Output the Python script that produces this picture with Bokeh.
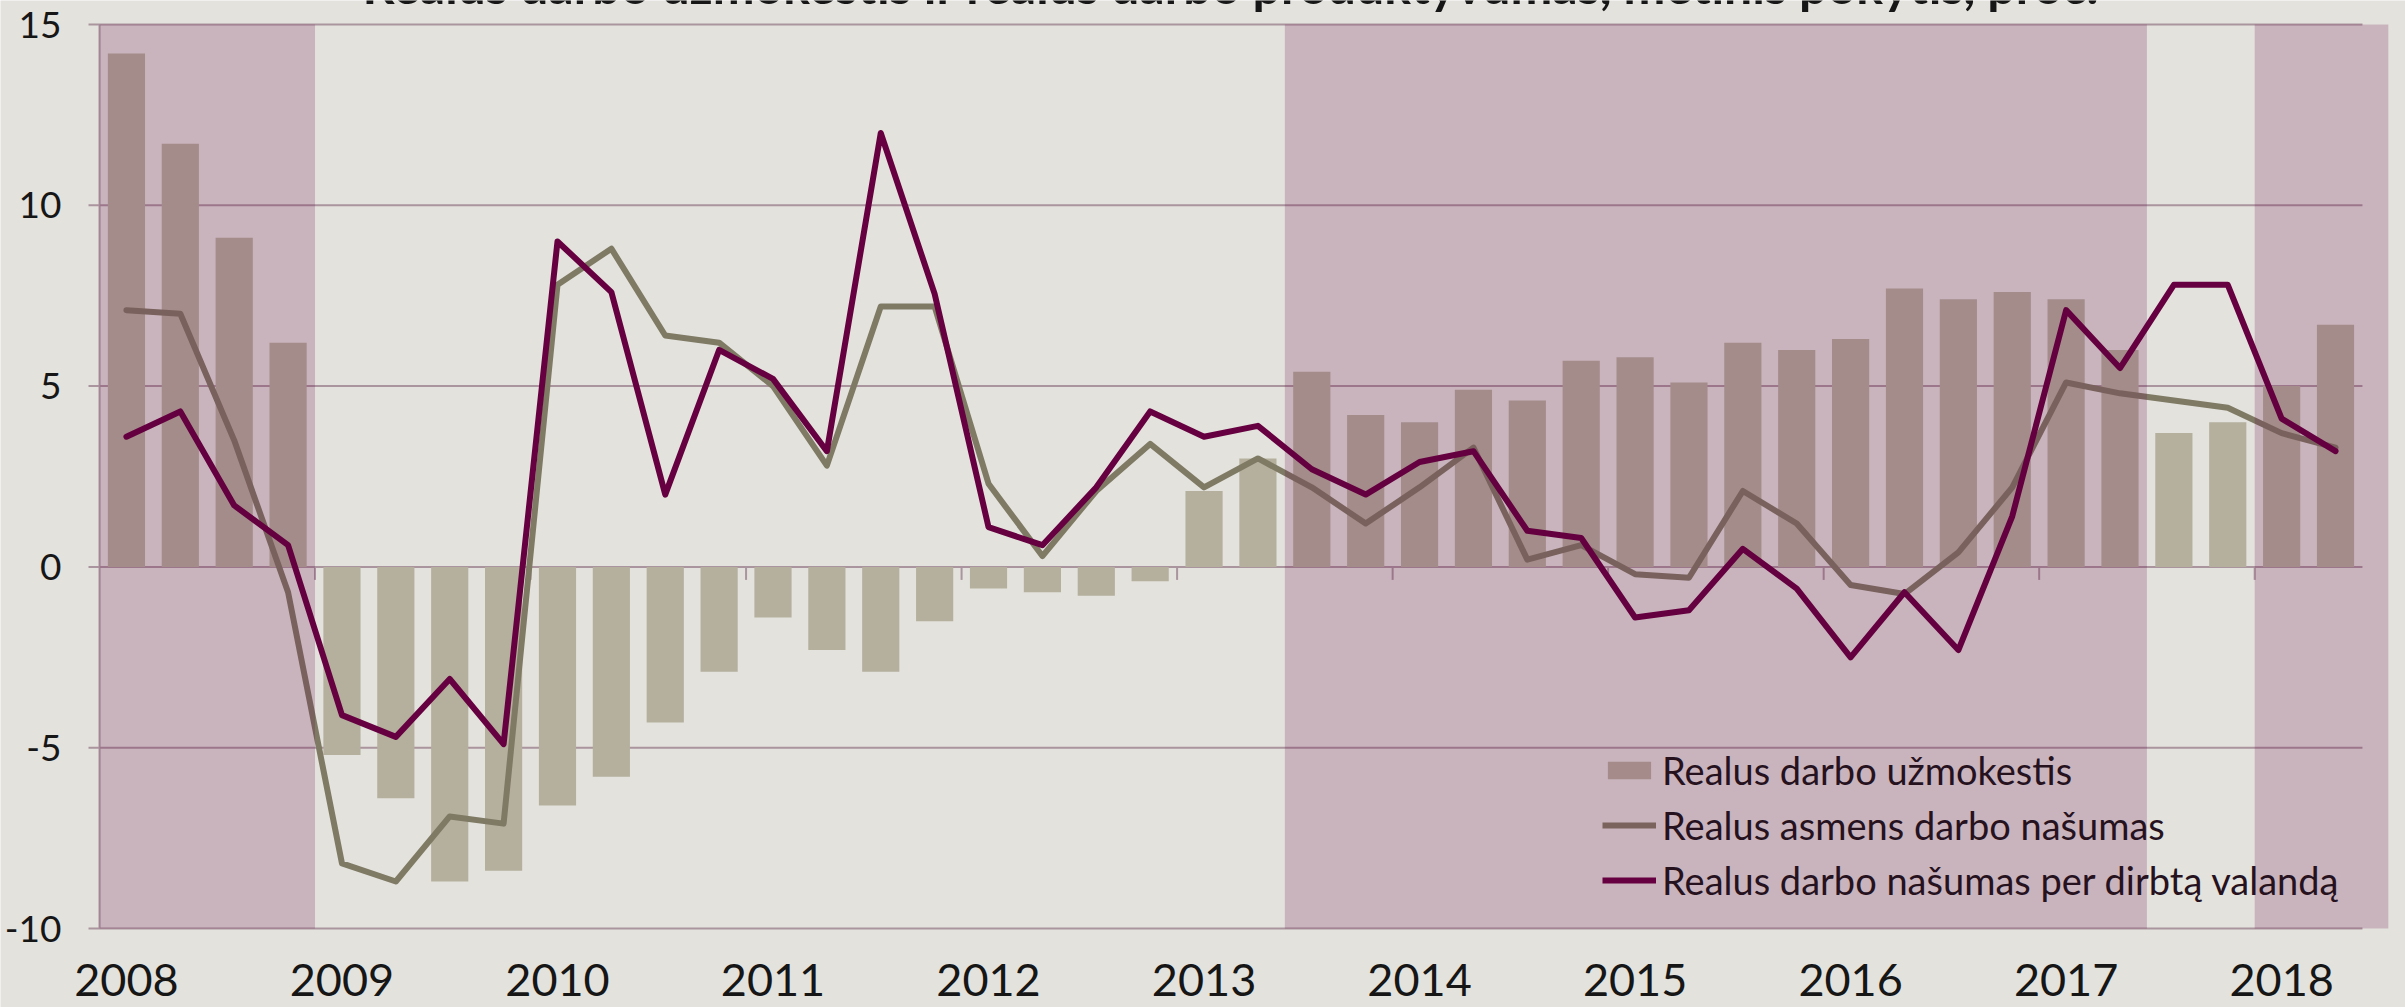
from bokeh.plotting import figure
from bokeh.models import Range1d, BoxAnnotation, Legend, LegendItem
from bokeh.core.properties import value
from bokeh.embed import file_html
from bokeh.resources import INLINE

# ---------------- data ----------------
years = ["2008", "2009", "2010", "2011", "2012", "2013",
         "2014", "2015", "2016", "2017", "2018"]

# Realus darbo užmokestis (bars), quarterly 2008Q1..2018Q2
wage = [14.2, 11.7, 9.1, 6.2,
        -5.2, -6.4, -8.7, -8.4,
        -6.6, -5.8, -4.3, -2.9,
        -1.4, -2.3, -2.9, -1.5,
        -0.6, -0.7, -0.8, -0.4,
        2.1, 3.0, 5.4, 4.2,
        4.0, 4.9, 4.6, 5.7,
        5.8, 5.1, 6.2, 6.0,
        6.3, 7.7, 7.4, 7.6,
        7.4, 6.0, 3.7, 4.0,
        5.0, 6.7]

# Realus asmens darbo našumas
per_person = [7.1, 7.0, 3.5, -0.7,
              -8.2, -8.7, -6.9, -7.1,
              7.8, 8.8, 6.4, 6.2,
              5.0, 2.8, 7.2, 7.2,
              2.3, 0.3, 2.1, 3.4,
              2.2, 3.0, 2.2, 1.2,
              2.2, 3.3, 0.2, 0.6,
              -0.2, -0.3, 2.1, 1.2,
              -0.5, -0.75, 0.4, 2.2,
              5.1, 4.8, 4.6, 4.4,
              3.7, 3.3]

# Realus darbo našumas per dirbtą valandą
per_hour = [3.6, 4.3, 1.7, 0.6,
            -4.1, -4.7, -3.1, -4.9,
            9.0, 7.6, 2.0, 6.0,
            5.2, 3.2, 12.0, 7.55,
            1.1, 0.6, 2.2, 4.3,
            3.6, 3.9, 2.7, 2.0,
            2.9, 3.2, 1.0, 0.8,
            -1.4, -1.2, 0.5, -0.6,
            -2.5, -0.7, -2.3, 1.4,
            7.1, 5.5, 7.8, 7.8,
            4.1, 3.2]

# shaded quarters (1 = shaded period)
shaded = [1, 1, 1, 1,
          0, 0, 0, 0,
          0, 0, 0, 0,
          0, 0, 0, 0,
          0, 0, 0, 0,
          0, 0, 1, 1,
          1, 1, 1, 1,
          1, 1, 1, 1,
          1, 1, 1, 1,
          1, 1, 0, 0,
          1, 1]

y_ticks = [-10, -5, 0, 5, 10, 15]
y_tick_labels = ["-10", "-5", "0", "5", "10", "15"]

title_text = "Realus darbo užmokestis ir realus darbo produktyvumas, metinis pokytis, proc."
legend_labels = ["Realus darbo užmokestis",
                 "Realus asmens darbo našumas",
                 "Realus darbo našumas per dirbtą valandą"]

# ---------------- style ----------------
BG = "#E3E2DD"
GRID = "#AA949E"
BAR = "#B5AF9D"
GREY = "#7F7A64"
PURPLE = "#660040"
TEXT = "#161616"
FONT = "Lato"
SHADE_ALPHA = 0.2
NAN = float("nan")


def blend(c, over=PURPLE, a=SHADE_ALPHA):
    c1 = [int(c[i:i + 2], 16) for i in (1, 3, 5)]
    c2 = [int(over[i:i + 2], 16) for i in (1, 3, 5)]
    return "#%02X%02X%02X" % tuple(round(a * q + (1 - a) * b) for b, q in zip(c1, c2))


W, H = 2405, 1007
LEFT = 99             # px from canvas left to the value axis
QPX = 53.88           # px per quarter
PX = 36.16            # px per percentage point
TOP_PAD = 24          # px between canvas top and the 15 line
BOT_PAD = 79          # px between the -10 line and canvas bottom

n = len(wage)
xs = [i + 0.5 for i in range(n)]
x_lo = -LEFT / QPX
x_hi = x_lo + W / QPX
shade_end = n + 0.48
y_lo = y_ticks[0] - BOT_PAD / PX
y_hi = y_ticks[-1] + TOP_PAD / PX

p = figure(width=W, height=H, output_backend="svg", toolbar_location=None,
           x_range=Range1d(x_lo, x_hi), y_range=Range1d(y_lo, y_hi),
           x_axis_location=None, y_axis_location=None,
           min_border_left=0, min_border_right=0, min_border_top=0,
           min_border_bottom=0)
p.background_fill_color = BG
p.border_fill_color = BG
p.outline_line_alpha = 0
p.xgrid.visible = False
p.ygrid.visible = False

# horizontal grid lines (with the outward tick marks of the value axis)
p.segment(x0=[-11 / QPX] * len(y_ticks), x1=[n] * len(y_ticks), y0=y_ticks, y1=y_ticks,
          line_color=GRID, line_width=2, level="underlay")
# value axis line
p.segment(x0=[0], x1=[0], y0=[y_ticks[0]], y1=[y_ticks[-1]],
          line_color=GRID, line_width=2, level="underlay")

# year-boundary ticks on the zero line
bx = list(range(4, n, 4))
p.segment(x0=bx, x1=bx, y0=[0] * len(bx), y1=[-13 / PX] * len(bx),
          line_color=GRID, line_width=2, level="underlay")

# bars and lines
p.vbar(x=xs, top=wage, width=0.69, fill_color=BAR, line_color=None)
p.line(xs, per_person, line_color=GREY, line_width=6, line_join="round", line_cap="round")
p.line(xs, per_hour, line_color=PURPLE, line_width=6, line_join="round", line_cap="round")

# shaded periods as translucent overlay
runs = []
start = None
for i, s in enumerate(shaded + [0]):
    if s and start is None:
        start = i
    if not s and start is not None:
        runs.append((start, i))
        start = None
for a, b in runs:
    right = shade_end if b == n else b
    p.add_layout(BoxAnnotation(left=a, right=right, bottom=y_ticks[0], top=y_ticks[-1],
                               fill_color=PURPLE, fill_alpha=SHADE_ALPHA, line_alpha=0,
                               level="overlay"))

# legend (sits inside a shaded area, so its swatches use the shaded tones)
lg_bar = p.vbar(x=[NAN], top=[NAN], width=0.69, fill_color=blend(BAR), line_color=None)
lg_grey = p.line([NAN], [NAN], line_color=blend(GREY), line_width=6)
lg_purple = p.line([NAN], [NAN], line_color=blend(PURPLE), line_width=6)
lg = Legend(items=[LegendItem(label=legend_labels[0], renderers=[lg_bar]),
                   LegendItem(label=legend_labels[1], renderers=[lg_grey]),
                   LegendItem(label=legend_labels[2], renderers=[lg_purple])],
            location=(LEFT + 1503, BOT_PAD + 25))
lg.background_fill_alpha = 0
lg.border_line_alpha = 0
lg.padding = 0
lg.margin = 0
lg.spacing = 9
lg.glyph_width = 54
lg.glyph_height = 22
lg.label_standoff = 6
lg.label_text_font = FONT
lg.label_text_font_size = "38px"
lg.label_text_color = blend(TEXT)
p.add_layout(lg)

# value-axis labels (right aligned, 38 px left of the axis line)
p.text(x=[-38 / QPX] * len(y_ticks), y=y_ticks, text=y_tick_labels, text_align="right",
       text_baseline="middle", text_font=value(FONT), text_font_size="37px",
       text_color=TEXT)

# year labels under the first quarter of each year
year_x = [i + 0.5 for i in range(0, n, 4)]
year_y = [y_ticks[0] - 51 / PX] * len(year_x)
p.text(x=year_x, y=year_y, text=years, text_align="center", text_baseline="middle",
       text_font=value(FONT), text_font_size="45px", text_color=TEXT)

# title (cut off at the top edge, as in the original)
p.text(x=[n / 2], y=[y_hi + 15.4 / PX], text=[title_text], text_align="center",
       text_baseline="middle", text_font=value(FONT), text_font_size="50px",
       text_font_style="bold", text_color=TEXT)

open("out.html", "w").write(file_html(p, INLINE))
